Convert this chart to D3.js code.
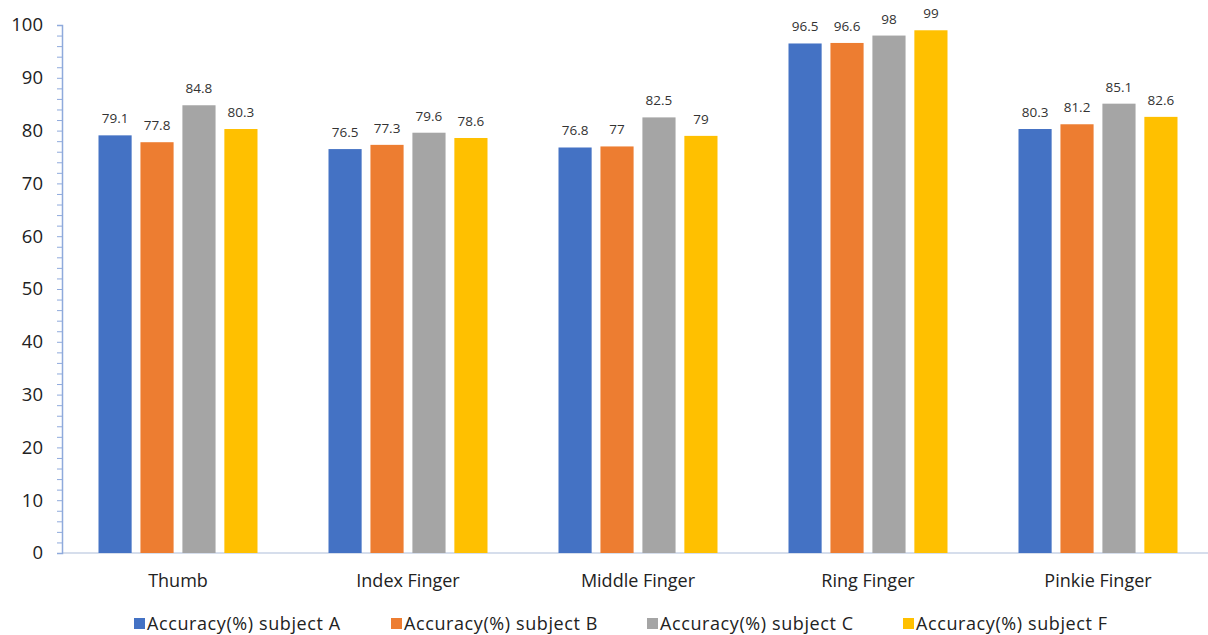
<!DOCTYPE html>
<html>
<head>
<meta charset="utf-8">
<script src="https://cdn.jsdelivr.net/npm/d3@7"></script>
<style>
  html, body { margin: 0; padding: 0; background: #fff; }
  svg { display: block; font-family: "Open Sans", Lato, sans-serif; }
</style>
</head>
<body>
<svg id="chart" width="1208" height="635"></svg>
<script>
// Finger categories and per-subject accuracy (%)
const categories = ["Thumb", "Index Finger", "Middle Finger", "Ring Finger", "Pinkie Finger"];
const seriesNames = ["Accuracy(%) subject A", "Accuracy(%) subject B", "Accuracy(%) subject C", "Accuracy(%) subject F"];
const subjectA = [79.1, 76.5, 76.8, 96.5, 80.3];
const subjectB = [77.8, 77.3, 77, 96.6, 81.2];
const subjectC = [84.8, 79.6, 82.5, 98, 85.1];
const subjectF = [80.3, 78.6, 79, 99, 82.6];
const yTicks = [0, 10, 20, 30, 40, 50, 60, 70, 80, 90, 100];
const colors = ["#4472C4", "#ED7D31", "#A5A5A5", "#FFC000"];

const series = [subjectA, subjectB, subjectC, subjectF];
const svg = d3.select("#chart");

const y = d3.scaleLinear().domain([0, 100]).range([553, 25]);
const x0 = d3.scaleBand().domain(categories).range([63, 1213]).padding(0);
const x1 = d3.scaleBand().domain(d3.range(series.length))
  .range([35.5, 194.5]).paddingInner(0.21).paddingOuter(0);

// Horizontal axis line
svg.append("line")
  .attr("x1", 62).attr("x2", 1208)
  .attr("y1", y(0)).attr("y2", y(0))
  .attr("stroke", "#c9d3e6").attr("stroke-width", 1.5);

// Vertical axis with minor ticks every 2 units
const yAxis = d3.axisLeft(y).tickValues(d3.range(0, 101, 2)).tickSize(5).tickFormat("");
const yg = svg.append("g").attr("transform", "translate(62,0)").call(yAxis);
yg.select(".domain").attr("stroke", "#8faadc").attr("stroke-width", 1.5);
yg.selectAll(".tick line").attr("stroke", "#8faadc").attr("stroke-width", 1);

// Major tick labels
svg.append("g").selectAll("text").data(yTicks).join("text")
  .attr("x", 43).attr("y", d => y(d)).attr("dy", "0.35em")
  .attr("text-anchor", "end").attr("font-size", 18.5).attr("fill", "#222")
  .text(d => d);

// Bars and value labels
const groups = svg.append("g").selectAll("g").data(categories).join("g")
  .attr("transform", c => `translate(${x0(c)},0)`);

groups.each(function(c, ci) {
  const g = d3.select(this);
  series.forEach((s, si) => {
    const v = s[ci];
    g.append("rect")
      .attr("x", x1(si)).attr("width", x1.bandwidth())
      .attr("y", y(v)).attr("height", y(0) - y(v))
      .attr("fill", colors[si]);
    g.append("text")
      .attr("x", x1(si) + x1.bandwidth() / 2).attr("y", y(v) - 12)
      .attr("text-anchor", "middle").attr("font-size", 13.5).attr("fill", "#333")
      .text(v);
  });
});

// Category labels
svg.append("g").selectAll("text").data(categories).join("text")
  .attr("x", c => x0(c) + x0.bandwidth() / 2).attr("y", 587)
  .attr("text-anchor", "middle").attr("font-size", 18).attr("fill", "#222")
  .text(c => c);

// Legend
const legendX = [134, 391, 647, 903];
const legend = svg.append("g").selectAll("g").data(seriesNames).join("g")
  .attr("transform", (d, i) => `translate(${legendX[i]},618)`);
legend.append("rect").attr("width", 11).attr("height", 11).attr("fill", (d, i) => colors[i]);
legend.append("text").attr("x", 13).attr("y", 12)
  .attr("font-size", 18).attr("letter-spacing", 0.6).attr("fill", "#222").text(d => d);
</script>
</body>
</html>
